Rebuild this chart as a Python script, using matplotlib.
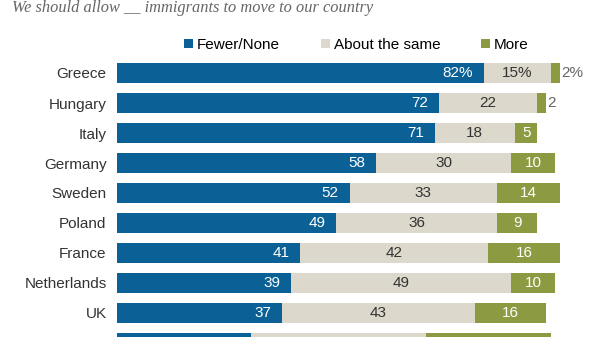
import matplotlib.pyplot as plt
import numpy as np

# Share saying we should allow fewer / about the same / more immigrants
countries = ['Greece', 'Hungary', 'Italy', 'Germany', 'Sweden', 'Poland',
             'France', 'Netherlands', 'UK', 'Spain']
fewer = [82, 72, 71, 58, 52, 49, 41, 39, 37, 30]
same = [15, 22, 18, 30, 33, 36, 42, 49, 43, 39]
more = [2, 2, 5, 10, 14, 9, 16, 10, 16, 28]

series_names = ['Fewer/None', 'About the same', 'More']
title = 'We should allow __ immigrants to move to our country'

blue = '#0b6196'
beige = '#dcd8cb'
green = '#8c9a41'

plt.rcParams['font.family'] = ['Liberation Sans', 'DejaVu Sans']

fig = plt.figure(figsize=(6, 3.37), dpi=100)
ax = fig.add_axes([117/600, 0, 483/600, 1])

y = np.arange(len(countries))
fewer = np.array(fewer)
same = np.array(same)
more = np.array(more)

h = 0.67
b1 = ax.barh(y, fewer, height=h, color=blue, label=series_names[0])
b2 = ax.barh(y, same, left=fewer, height=h, color=beige, label=series_names[1])
b3 = ax.barh(y, more, left=fewer + same, height=h, color=green, label=series_names[2])

# the last row is cropped at the bottom edge, only its bars show
shown = len(countries) - 1
for i in range(shown):
    suf = '%' if i == 0 else ''
    ax.text(fewer[i] - 2.4, y[i], f'{fewer[i]}{suf}', ha='right', va='center',
            color='white', fontsize=11)
    ax.text(fewer[i] + same[i] / 2, y[i], f'{same[i]}{suf}', ha='center',
            va='center', color='#333333', fontsize=11)
    if more[i] < 4:
        ax.text(fewer[i] + same[i] + more[i] + 0.3, y[i], f'{more[i]}{suf}',
                ha='left', va='center', color='#666666', fontsize=11)
    else:
        ax.text(fewer[i] + same[i] + more[i] / 2, y[i], f'{more[i]}{suf}',
                ha='center', va='center', color='white', fontsize=11)

ax.set_xlim(0, 108)
ax.set_ylim((337 - 73) / 30, -73 / 30)
ax.set_yticks(y[:shown])
ax.set_yticklabels(countries[:shown], fontsize=11, color='#333333')
ax.tick_params(axis='y', length=0, pad=7.5)
ax.set_xticks([])
for s in ax.spines.values():
    s.set_visible(False)

fig.legend(handles=[b1, b2, b3], loc='center', bbox_to_anchor=(0.594, 1 - 45/337),
           ncol=3, frameon=False, fontsize=11, handlelength=0.6, handleheight=0.6,
           handletextpad=0.25, columnspacing=2.65, borderpad=0)

fig.text(12/600, 1 - 12.5/337, title, ha='left', va='baseline', fontsize=11.8,
         family='Liberation Serif', style='italic', color='#666666')

fig.savefig('out.png', dpi=100)
